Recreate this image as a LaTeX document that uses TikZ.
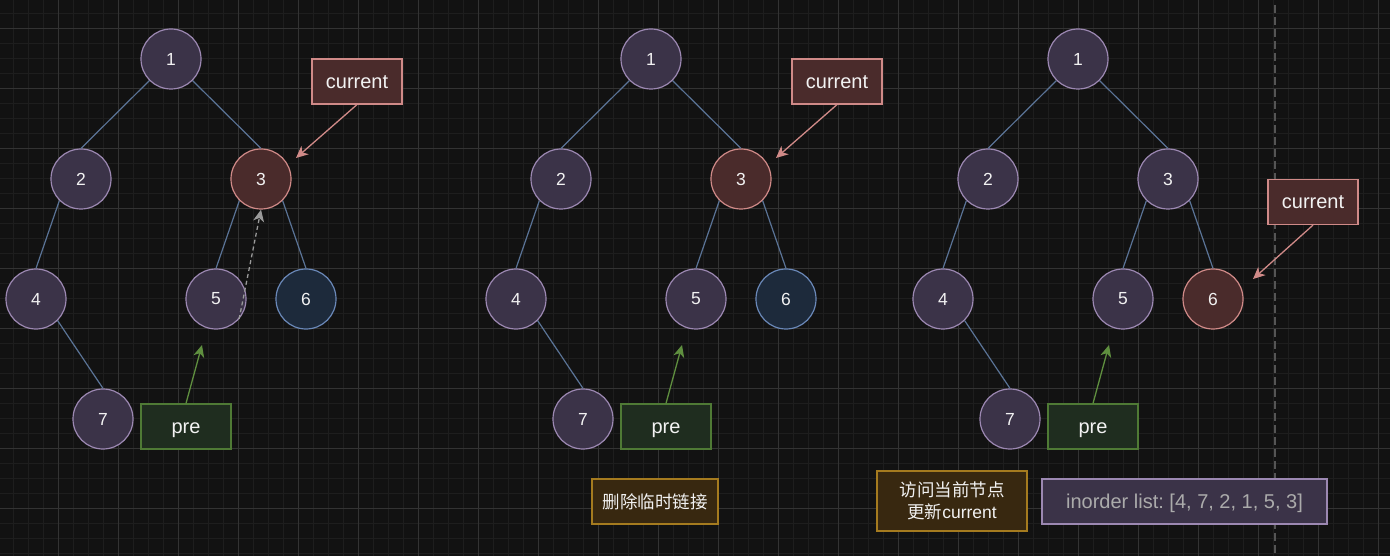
\documentclass[tikz,border=0pt]{standalone}
\usepackage{fontspec}
\setmainfont{Liberation Sans}
\newfontfamily\cjk{Noto Sans CJK SC}
\usetikzlibrary{arrows.meta}
\definecolor{bgc}{HTML}{121212}
\definecolor{minorc}{HTML}{1E1E1E}
\definecolor{majorc}{HTML}{333333}
\definecolor{pfill}{HTML}{3B3348}
\definecolor{pdraw}{HTML}{9C88B2}
\definecolor{rfill}{HTML}{4A2B2B}
\definecolor{rdraw}{HTML}{D08A88}
\definecolor{bfill}{HTML}{1D2A3B}
\definecolor{bdraw}{HTML}{6A88B8}
\definecolor{gfill}{HTML}{1F2D1F}
\definecolor{gdraw}{HTML}{4F7A35}
\definecolor{garrow}{HTML}{5F8F3F}
\definecolor{yfill}{HTML}{382810}
\definecolor{ydraw}{HTML}{A57B1F}
\definecolor{edgec}{HTML}{5A7396}
\definecolor{txt}{HTML}{F2F2F2}
\definecolor{listtxt}{HTML}{ABABAB}
\definecolor{dashc}{HTML}{9A9A9A}
\definecolor{sepc}{HTML}{555555}
\newcommand\drawtree[4]{%
\begin{scope}[xshift=#2]
\node[pnode] (#1n1) at (171,59) {1};
\node[pnode] (#1n2) at (81,179) {2};
\node[#3] (#1n3) at (261,179) {3};
\node[pnode] (#1n4) at (36,299) {4};
\node[pnode] (#1n5) at (216,299) {5};
\node[#4] (#1n6) at (306,299) {6};
\node[pnode] (#1n7) at (103,419) {7};
\draw[treeedge] (#1n1.south west) -- (#1n2.north);
\draw[treeedge] (#1n1.south east) -- (#1n3.north);
\draw[treeedge] (#1n2.south west) -- (#1n4.north);
\draw[treeedge] (#1n3.south west) -- (#1n5.north);
\draw[treeedge] (#1n3.south east) -- (#1n6.north);
\draw[treeedge] (#1n4.south east) -- (#1n7.north);
\node[prebox] (#1pre) at (186,426.5) {pre};
\coordinate (#1pt) at (202,345);
\draw[prearrow] (#1pre.north) -- (#1pt);
\end{scope}}
\begin{document}
\begin{tikzpicture}[x=1pt,y=-1pt,
  minorgrid/.style={draw=minorc,line width=0.8pt},
  majorgrid/.style={draw=majorc,line width=0.9pt},
  basenode/.style={circle,minimum size=60pt,inner sep=0pt,line width=1.2pt,text=txt,font=\fontsize{17.5}{20}\selectfont},
  pnode/.style={basenode,fill=pfill,draw=pdraw},
  rnode/.style={basenode,fill=rfill,draw=rdraw},
  bnode/.style={basenode,fill=bfill,draw=bdraw},
  treeedge/.style={draw=edgec,line width=1.2pt},
  boxbase/.style={rectangle,inner sep=0pt,line width=1.2pt,text=txt,font=\fontsize{20}{24}\selectfont},
  curbox/.style={boxbase,fill=rfill,draw=rdraw,minimum width=90pt,minimum height=45pt,text height=13.5pt,text depth=0pt},
  prebox/.style={boxbase,fill=gfill,draw=gdraw,minimum width=90pt,minimum height=45pt,text height=13.5pt,text depth=0pt},
  notebox/.style={boxbase,fill=yfill,draw=ydraw,font=\cjk\fontsize{17.5}{22}\selectfont,align=center},
  listbox/.style={boxbase,fill=pfill,draw=pdraw,text=listtxt,minimum width=285pt,minimum height=45pt,text height=14.3pt,text depth=0pt,font=\fontsize{20}{24}\selectfont\frenchspacing},
  tip/.style={-{Stealth[length=12pt,width=11pt,inset=3.5pt]}},
  curarrow/.style={draw=rdraw,line width=1.3pt,tip},
  prearrow/.style={draw=garrow,line width=1.3pt,tip},
  threadarrow/.style={draw=dashc,line width=1.3pt,dash pattern=on 4pt off 3pt,tip},
  sepline/.style={draw=sepc,line width=1.5pt,dash pattern=on 8pt off 4pt}]
\useasboundingbox (0,0) rectangle (1390,556);
\fill[bgc] (0,0) rectangle (1390,556);
\foreach \x in {13,28,...,1388} \draw[minorgrid] (\x,0) -- (\x,556);
\foreach \y in {13,28,...,553} \draw[minorgrid] (0,\y) -- (1390,\y);
\foreach \x in {58,118,...,1378} \draw[majorgrid] (\x,0) -- (\x,556);
\foreach \y in {28,88,...,508} \draw[majorgrid] (0,\y) -- (1390,\y);
\coordinate (sepTop) at (1275,5);
\coordinate (sepBot) at (1275,556);
\draw[sepline] (sepTop) -- (sepBot);
% tree 1
\drawtree{a}{0}{rnode}{bnode}
\draw[threadarrow] (an5.-41) -- (an3.south);
\node[curbox] (acur) at (357,81.5) {current};
\coordinate (act) at (296,158);
\draw[curarrow] (acur.south) -- (act);
% tree 2
\drawtree{b}{480}{rnode}{bnode}
\node[curbox] (bcur) at (837,81.5) {current};
\coordinate (bct) at (776,158);
\draw[curarrow] (bcur.south) -- (bct);
\node[notebox,minimum width=126pt,minimum height=45pt] (bnote) at (655,501.5) {删除临时链接};
% tree 3
\drawtree{c}{907}{pnode}{rnode}
\node[curbox] (ccur) at (1313,202) {current};
\coordinate (cct) at (1253,279);
\draw[curarrow] (ccur.south) -- (cct);
\node[notebox,minimum width=150pt,minimum height=60pt] (cnote) at (952,501) {访问当前节点\\更新{\setmainfont{Liberation Sans}\rmfamily current}};
\node[listbox] (clist) at (1184.5,501.5) {inorder list: [4, 7, 2, 1, 5, 3]};
\end{tikzpicture}
\end{document}
